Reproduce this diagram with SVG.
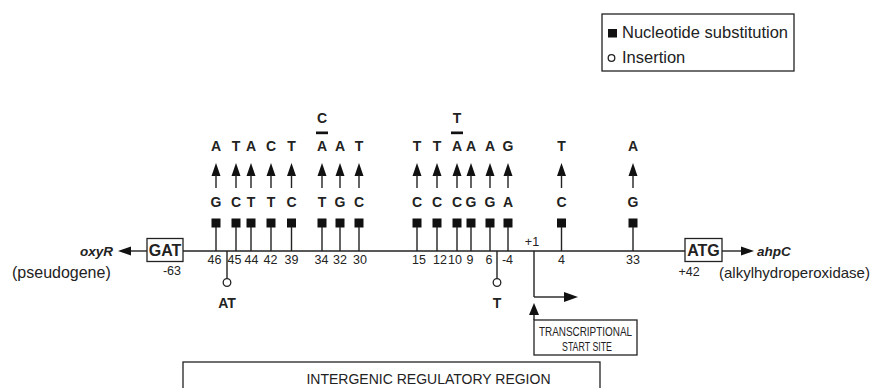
<svg xmlns="http://www.w3.org/2000/svg" width="873" height="388" viewBox="0 0 873 388">
<style>
text{font-family:"Liberation Sans",Arial,sans-serif;fill:#222}
.nt{font-size:14px;font-weight:bold;text-anchor:middle}
.num{font-size:12.5px;text-anchor:middle}
.lab{font-size:16px}
.gene{font-size:13.5px;font-weight:bold;font-style:italic}
.cod{font-size:16px;font-weight:bold;text-anchor:middle}
.box{fill:#fff;stroke:#222;stroke-width:1.3}
.ln{stroke:#222;stroke-width:1.4;fill:none}
.sq{fill:#111}
.head{fill:#111}
.ins{fill:#fff;stroke:#222;stroke-width:1.3}
.cap{font-size:13px;text-anchor:middle}
</style>
<defs>
<g id="mut">
<polygon class="head" points="0,163 -4.5,176 4.5,176"/>
<line class="ln" x1="0" y1="175" x2="0" y2="188"/>
<rect class="sq" x="-4.5" y="218.5" width="9" height="9"/>
<line class="ln" x1="0" y1="227" x2="0" y2="251"/>
</g>
</defs>

<g id="legend">
<rect class="box" x="602" y="14" width="192" height="57"/>
<rect class="sq" x="608" y="29" width="9" height="8.5"/>
<text class="lab" x="622" y="38" style="font-size:16.5px">Nucleotide substitution</text>
<circle class="ins" cx="611.5" cy="58" r="3.3"/>
<text class="lab" x="622" y="63" style="font-size:16.5px">Insertion</text>
</g>

<g id="connectors">
<line class="ln" x1="183" y1="251" x2="685" y2="251"/>
<line class="ln" x1="147" y1="251" x2="128" y2="251"/>
<polygon class="head" points="118,251 131,246.5 131,255.5"/>
<line class="ln" x1="722" y1="251" x2="744" y2="251"/>
<polygon class="head" points="754,251 741,246.5 741,255.5"/>
<line class="ln" x1="534" y1="251" x2="534" y2="297"/>
<line class="ln" x1="534" y1="297" x2="566" y2="297"/>
<polygon class="head" points="578,297 564,292 564,302"/>
<line class="ln" x1="534" y1="312" x2="534" y2="320"/>
<polygon class="head" points="534,303 529,315 539,315"/>
</g>

<g id="oxyR">
<text class="gene" x="113" y="256" text-anchor="end">oxyR</text>
<text class="lab" x="12" y="278">(pseudogene)</text>
</g>
<g id="gat">
<rect class="box" x="147" y="238.5" width="36" height="23"/>
<text class="cod" x="165" y="256">GAT</text>
<text class="num" x="172" y="275">-63</text>
</g>
<g id="atg">
<rect class="box" x="685" y="238.5" width="37" height="23"/>
<text class="cod" x="703.5" y="256">ATG</text>
<text class="num" x="689" y="276">+42</text>
</g>
<g id="ahpC">
<text class="gene" x="757" y="256">ahpC</text>
<text class="lab" x="719" y="278" style="font-size:15px">(alkylhydroperoxidase)</text>
</g>

<g id="m46"><use href="#mut" x="216"/><text class="nt" x="216" y="150.5">A</text><text class="nt" x="216" y="207">G</text><text class="num" x="214.5" y="264">46</text></g>
<g id="m45"><use href="#mut" x="236"/><text class="nt" x="236" y="150.5">T</text><text class="nt" x="236" y="207">C</text><text class="num" x="234.5" y="264">45</text></g>
<g id="m44"><use href="#mut" x="251"/><text class="nt" x="251" y="150.5">A</text><text class="nt" x="251" y="207">T</text><text class="num" x="251.5" y="264">44</text></g>
<g id="m42"><use href="#mut" x="271"/><text class="nt" x="271" y="150.5">C</text><text class="nt" x="271" y="207">T</text><text class="num" x="270.5" y="264">42</text></g>
<g id="m39"><use href="#mut" x="291.5"/><text class="nt" x="291.5" y="150.5">T</text><text class="nt" x="291.5" y="207">C</text><text class="num" x="291.5" y="264">39</text></g>
<g id="m34"><use href="#mut" x="322"/><text class="nt" x="322" y="123">C</text><rect class="sq" x="316" y="131.5" width="12" height="2.7"/><text class="nt" x="322" y="150.5">A</text><text class="nt" x="322" y="207">T</text><text class="num" x="321.5" y="264">34</text></g>
<g id="m32"><use href="#mut" x="340"/><text class="nt" x="340" y="150.5">A</text><text class="nt" x="340" y="207">G</text><text class="num" x="340" y="264">32</text></g>
<g id="m30"><use href="#mut" x="359"/><text class="nt" x="359" y="150.5">T</text><text class="nt" x="359" y="207">C</text><text class="num" x="360" y="264">30</text></g>
<g id="m15"><use href="#mut" x="417"/><text class="nt" x="417" y="150.5">T</text><text class="nt" x="417" y="207">C</text><text class="num" x="419" y="264">15</text></g>
<g id="m12"><use href="#mut" x="437"/><text class="nt" x="437" y="150.5">T</text><text class="nt" x="437" y="207">C</text><text class="num" x="440" y="264">12</text></g>
<g id="m10"><use href="#mut" x="457"/><text class="nt" x="457" y="123">T</text><rect class="sq" x="451" y="131.5" width="12" height="2.7"/><text class="nt" x="457" y="150.5">A</text><text class="nt" x="457" y="207">C</text><text class="num" x="455" y="264">10</text></g>
<g id="m9"><use href="#mut" x="471"/><text class="nt" x="471" y="150.5">A</text><text class="nt" x="471" y="207">G</text><text class="num" x="470" y="264">9</text></g>
<g id="m6"><use href="#mut" x="490"/><text class="nt" x="490" y="150.5">A</text><text class="nt" x="490" y="207">G</text><text class="num" x="489" y="264">6</text></g>
<g id="m-4"><use href="#mut" x="508"/><text class="nt" x="508" y="150.5">G</text><text class="nt" x="508" y="207">A</text><text class="num" x="507.5" y="264">-4</text></g>
<g id="m4"><use href="#mut" x="561.5"/><text class="nt" x="561.5" y="150.5">T</text><text class="nt" x="561.5" y="207">C</text><text class="num" x="561.5" y="264">4</text></g>
<g id="m33"><use href="#mut" x="633"/><text class="nt" x="633" y="150.5">A</text><text class="nt" x="633" y="207">G</text><text class="num" x="633" y="264">33</text></g>

<g id="insAT">
<line class="ln" x1="227" y1="251" x2="227" y2="278.5"/>
<circle class="ins" cx="227" cy="282.5" r="3.8"/>
<text class="nt" x="227" y="308">AT</text>
</g>
<g id="insT">
<line class="ln" x1="497" y1="251" x2="497" y2="278.5"/>
<circle class="ins" cx="497" cy="282.5" r="3.8"/>
<text class="nt" x="497" y="308">T</text>
</g>

<g id="plus1">
<text class="num" x="532" y="246">+1</text>
</g>

<g id="tss">
<rect class="box" x="534" y="320" width="103" height="35"/>
<text class="cap" x="585.5" y="336" textLength="93" lengthAdjust="spacingAndGlyphs">TRANSCRIPTIONAL</text>
<text class="cap" x="587" y="350.5" textLength="50" lengthAdjust="spacingAndGlyphs">START SITE</text>
</g>

<g id="region">
<rect class="box" x="183" y="362" width="417" height="40"/>
<text class="cap" x="428.5" y="383.5" style="font-size:14px">INTERGENIC REGULATORY REGION</text>
</g>
</svg>
